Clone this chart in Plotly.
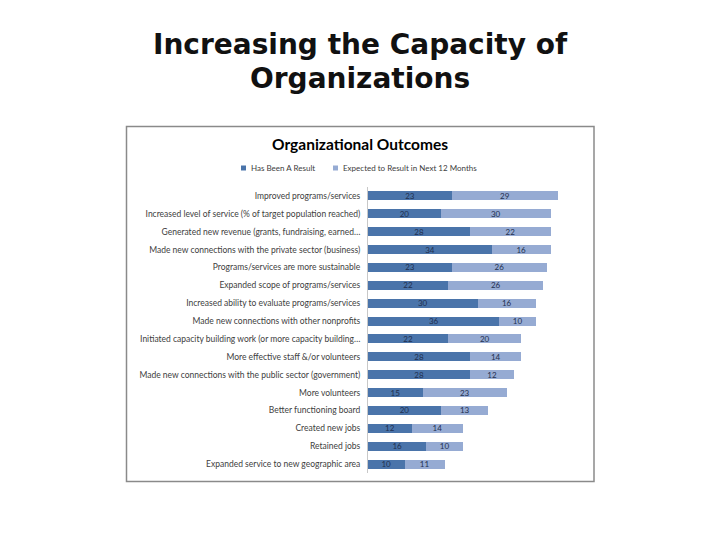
import plotly.graph_objects as go

categories = [
    "Improved programs/services",
    "Increased level of service (% of target population reached)",
    "Generated new revenue (grants, fundraising, earned…",
    "Made new connections with the private sector (business)",
    "Programs/services are more sustainable",
    "Expanded scope of programs/services",
    "Increased ability to evaluate programs/services",
    "Made new connections with other nonprofits",
    "Initiated capacity building work (or more capacity building…",
    "More effective staff &/or volunteers",
    "Made new connections with the public sector (government)",
    "More volunteers",
    "Better functioning board",
    "Created new jobs",
    "Retained jobs",
    "Expanded service to new geographic area",
]
has_been = [23, 20, 28, 34, 23, 22, 30, 36, 22, 28, 28, 15, 20, 12, 16, 10]
expected = [29, 30, 22, 16, 26, 26, 16, 10, 20, 14, 12, 23, 13, 14, 10, 11]
series_names = ["Has Been A Result", "Expected to Result in Next 12 Months"]

W, H = 720, 540
def px_x(p): return p / W
def px_y(p): return 1 - p / H

dark = "#4A74AA"
light = "#96ABD3"
FONT = "Lato, Open Sans, sans-serif"
lab_font = dict(family=FONT, size=8, color="#1F2F4F")

fig = go.Figure()
for vals, name, col in [(has_been, series_names[0], dark), (expected, series_names[1], light)]:
    fig.add_trace(go.Bar(
        y=categories, x=vals, name=name, orientation="h",
        marker=dict(color=col, line=dict(width=0)),
        text=vals, textposition="inside", insidetextanchor="middle", textangle=0,
        constraintext="none", textfont=lab_font, hoverinfo="x+y",
    ))

fig.update_layout(
    width=W, height=H,
    margin=dict(l=0, r=0, t=0, b=0),
    paper_bgcolor="white", plot_bgcolor="white",
    barmode="stack", bargap=0.5,
    showlegend=False,
    xaxis=dict(domain=[px_x(368), px_x(368 + 60 * 3.65)], range=[0, 60],
               showgrid=False, zeroline=False, showticklabels=False, showline=False),
    yaxis=dict(domain=[px_y(473), px_y(187)], autorange="reversed",
               showgrid=False, zeroline=False, showline=True, linecolor="#C8C8C8", linewidth=1,
               ticks="", ticklabelstandoff=5,
               tickfont=dict(family=FONT, size=8.5, color="#404040")),
    font=dict(family=FONT),
)

# Slide title
for txt, yc in [("Increasing the Capacity of", 44), ("Organizations", 79)]:
    fig.add_annotation(text="<b>" + txt + "</b>", x=0.5, y=px_y(yc), xref="paper", yref="paper",
                       xanchor="center", yanchor="middle", showarrow=False,
                       font=dict(family="DejaVu Sans, sans-serif", size=28, color="#111111"))
# Chart title
fig.add_annotation(text="<b>Organizational Outcomes</b>", x=0.5, y=px_y(144), xref="paper", yref="paper",
                   xanchor="center", yanchor="middle", showarrow=False,
                   font=dict(family=FONT, size=15.5, color="black"))
# Custom legend (small square markers)
for name, col, mx in [(series_names[0], dark, 241), (series_names[1], light, 333)]:
    fig.add_shape(type="rect", xref="paper", yref="paper",
                  x0=px_x(mx), x1=px_x(mx + 5), y0=px_y(170.5), y1=px_y(165.5),
                  line=dict(width=0), fillcolor=col)
    fig.add_annotation(text=name, x=px_x(mx + 8), y=px_y(168), xref="paper", yref="paper",
                       xanchor="left", yanchor="middle", showarrow=False,
                       font=dict(family=FONT, size=8, color="#404040"))
# Chart border
fig.add_shape(type="rect", xref="paper", yref="paper",
              x0=px_x(126.5), x1=px_x(594), y0=px_y(481.5), y1=px_y(126.5),
              line=dict(color="#8A8A8A", width=1.5), fillcolor="rgba(0,0,0,0)", layer="below")

fig.write_html("out.html", config={"displayModeBar": False},
               post_script="document.body.style.margin='0';")
